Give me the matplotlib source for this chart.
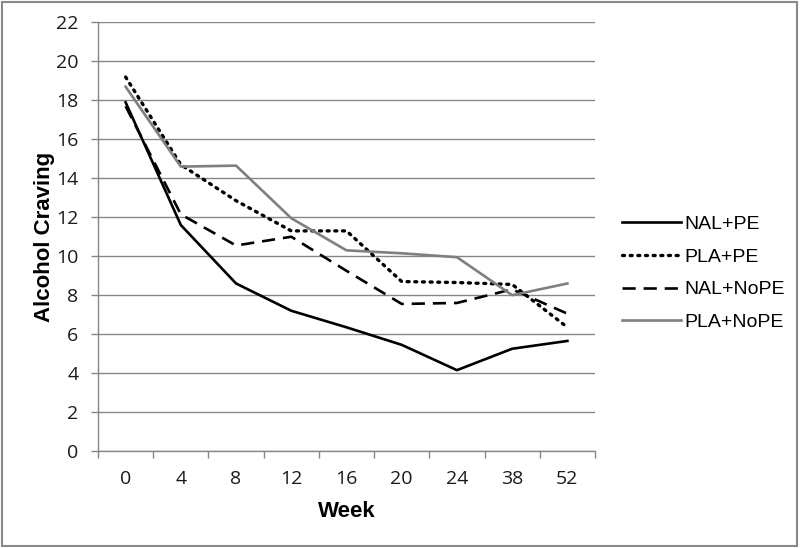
import matplotlib
matplotlib.use("Agg")
from matplotlib import pyplot as plt
from matplotlib.patches import Rectangle

weeks = ["0", "4", "8", "12", "16", "20", "24", "38", "52"]
nal_pe = [17.9, 11.6, 8.6, 7.2, 6.35, 5.45, 4.15, 5.25, 5.65]
pla_pe = [19.2, 14.7, 12.85, 11.3, 11.3, 8.7, 8.65, 8.55, 6.35]
nal_nope = [17.7, 12.15, 10.55, 11.0, 9.25, 7.55, 7.6, 8.3, 7.05]
pla_nope = [18.7, 14.6, 14.65, 11.95, 10.3, 10.15, 9.95, 8.0, 8.6]

grid_col = "#878787"

fig = plt.figure(figsize=(8, 5.48), dpi=100)
ax = fig.add_axes([0.1225, 0.177, 0.62125, 0.782])

x = list(range(len(weeks)))
ax.plot(x, nal_pe, color="black", lw=1.9, label="NAL+PE")
ax.plot(x, pla_pe, color="black", lw=2.4, linestyle=(0, (0.6, 1.7)),
        dash_capstyle="round", label="PLA+PE")
ax.plot(x, nal_nope, color="black", lw=1.9, linestyle=(0, (5, 3)), label="NAL+NoPE")
ax.plot(x, pla_nope, color="#7f7f7f", lw=1.9, label="PLA+NoPE")

ax.set_xlim(-0.5, len(weeks) - 0.5)
ax.set_ylim(0, 22)
ax.set_yticks(range(0, 23, 2))
ax.set_xticks(x)
ax.set_xticklabels(weeks)
ax.set_xticks([i - 0.5 for i in range(len(weeks) + 1)], minor=True)
ax.tick_params(axis="x", which="major", length=0, pad=14, labelsize=14,
               labelcolor="#1a1a1a")
ax.tick_params(axis="x", which="minor", length=5, width=1, color=grid_col,
               direction="out")
ax.tick_params(axis="y", length=5, width=1, color=grid_col, labelsize=14,
               labelcolor="#1a1a1a", pad=9)
for lab in ax.get_xticklabels() + ax.get_yticklabels():
    lab.set_fontfamily("Open Sans")

ax.yaxis.grid(True, color=grid_col, lw=1)
ax.set_axisbelow(True)
for s in ["top", "right"]:
    ax.spines[s].set_visible(False)
for s in ["left", "bottom"]:
    ax.spines[s].set_color(grid_col)
    ax.spines[s].set_linewidth(1)

ax.set_xlabel("Week", fontsize=16, fontweight="bold", family="Liberation Sans",
              labelpad=9)
ax.set_ylabel("Alcohol Craving", fontsize=16, fontweight="bold",
              family="Liberation Sans", labelpad=1)

leg = ax.legend(loc="center left", bbox_to_anchor=(1.02, 0.415), frameon=False,
                prop={"family": "Liberation Sans", "size": 14},
                handlelength=3.0, handletextpad=0.2, labelspacing=0.78)

fig.patches.append(Rectangle((0.003, 0.003), 0.993, 0.994, transform=fig.transFigure,
                             fill=False, edgecolor="#8a8a8a", lw=1.5))

plt.savefig("out.png", dpi=100)
